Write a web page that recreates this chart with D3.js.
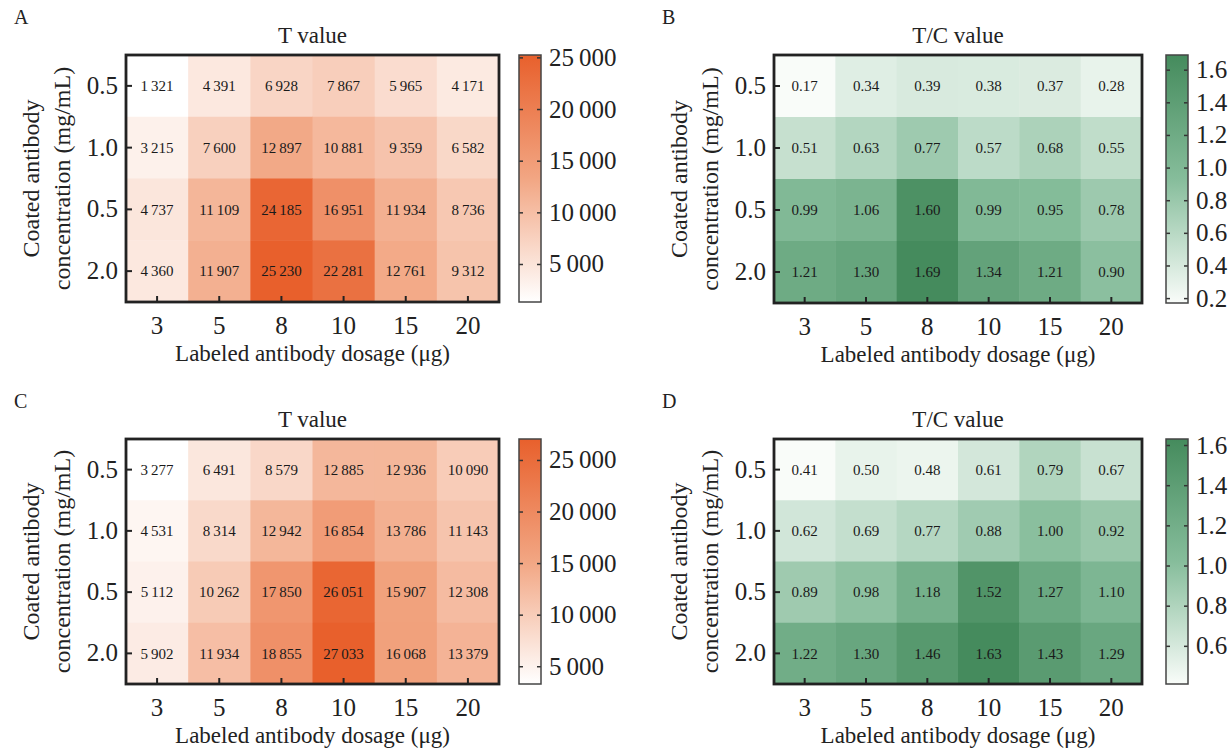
<!DOCTYPE html>
<html>
<head>
<meta charset="utf-8">
<script src="https://cdn.jsdelivr.net/npm/d3@7.9.0/dist/d3.min.js"></script>
<style>
  body { margin: 0; background: #fff; }
  svg { display: block; font-family: "Liberation Serif", "Times New Roman", serif; }
</style>
</head>
<body>
<svg id="chart" width="1228" height="751"></svg>
<script>
// x categories (labeled antibody dosage, ug) and y categories (coated antibody, mg/mL)
const doses = ['3', '5', '8', '10', '15', '20'];
const coatLabels = ['0.5', '1.0', '0.5', '2.0'];

// panel A: T value
const tValuesA = [
  [1321, 4391, 6928, 7867, 5965, 4171],
  [3215, 7600, 12897, 10881, 9359, 6582],
  [4737, 11109, 24185, 16951, 11934, 8736],
  [4360, 11907, 25230, 22281, 12761, 9312]
];
// panel B: T/C value
const tcValuesB = [
  [0.17, 0.34, 0.39, 0.38, 0.37, 0.28],
  [0.51, 0.63, 0.77, 0.57, 0.68, 0.55],
  [0.99, 1.06, 1.60, 0.99, 0.95, 0.78],
  [1.21, 1.30, 1.69, 1.34, 1.21, 0.90]
];
// panel C: T value
const tValuesC = [
  [3277, 6491, 8579, 12885, 12936, 10090],
  [4531, 8314, 12942, 16854, 13786, 11143],
  [5112, 10262, 17850, 26051, 15907, 12308],
  [5902, 11934, 18855, 27033, 16068, 13379]
];
// panel D: T/C value
const tcValuesD = [
  [0.41, 0.50, 0.48, 0.61, 0.79, 0.67],
  [0.62, 0.69, 0.77, 0.88, 1.00, 0.92],
  [0.89, 0.98, 1.18, 1.52, 1.27, 1.10],
  [1.22, 1.30, 1.46, 1.63, 1.43, 1.29]
];

const tTicks = [5000, 10000, 15000, 20000, 25000];
const tcTicksB = [0.2, 0.4, 0.6, 0.8, 1.0, 1.2, 1.4, 1.6];
const tcTicksD = [0.6, 0.8, 1.0, 1.2, 1.4, 1.6];

// colour ramps: low, middle, high
const orange = ['#ffffff', '#f2a683', '#e8602c'];
const green = ['#f9fcf9', '#86bd9b', '#458b5d'];

const loc = d3.formatLocale({ decimal: '.', thousands: '\u2009', grouping: [3], currency: ['', ''] });
const fmtT = loc.format(',d');
const fmtTC = d3.format('.2f');
const fmtTick1 = d3.format('.1f');

const svg = d3.select('#chart');
const defs = svg.append('defs');

function drawPanel(p) {
  const g = svg.append('g').attr('transform', `translate(${p.x},${p.y})`);
  const w = p.w, h = p.h;

  const x = d3.scaleBand().domain(d3.range(doses.length)).range([0, w]);
  const y = d3.scaleBand().domain(d3.range(coatLabels.length)).range([0, h]);

  const ext = d3.extent(p.values.flat());
  const mid = ext[0] + (ext[1] - ext[0]) * 0.5;
  const color = d3.scaleLinear().domain([ext[0], mid, ext[1]]).range(p.colors);

  const cells = [];
  p.values.forEach((row, ri) => row.forEach((v, ci) => cells.push({ ri, ci, v })));

  g.selectAll('rect.cell')
    .data(cells)
    .join('rect')
    .attr('class', 'cell')
    .attr('x', d => x(d.ci))
    .attr('y', d => y(d.ri))
    .attr('width', x.bandwidth() + 0.5)
    .attr('height', y.bandwidth() + 0.5)
    .attr('fill', d => color(d.v));

  g.selectAll('text.val')
    .data(cells)
    .join('text')
    .attr('class', 'val')
    .attr('x', d => x(d.ci) + x.bandwidth() / 2)
    .attr('y', d => y(d.ri) + y.bandwidth() / 2)
    .attr('dy', '0.35em')
    .attr('text-anchor', 'middle')
    .attr('font-size', 15)
    .attr('fill', '#1a1a1a')
    .text(d => p.fmt(d.v));

  // axes, ticks pointing inward
  const xAxis = g.append('g')
    .attr('transform', `translate(0,${h})`)
    .call(d3.axisBottom(x).tickSize(-6).tickPadding(14).tickFormat(i => doses[i]));
  const yAxis = g.append('g')
    .call(d3.axisLeft(y).tickSize(-6).tickPadding(8).tickFormat(i => coatLabels[i]));
  [xAxis, yAxis].forEach(a => {
    a.select('.domain').remove();
    a.selectAll('.tick line').attr('stroke', '#222').attr('stroke-width', 2);
    a.selectAll('.tick text').attr('font-size', 25).attr('fill', '#222')
      .attr('font-family', '"Liberation Serif", serif');
  });

  g.append('rect')
    .attr('width', w).attr('height', h)
    .attr('fill', 'none').attr('stroke', '#222').attr('stroke-width', 2.8);

  // panel letter and title
  svg.append('text')
    .attr('x', p.x - 112).attr('y', p.y - 31)
    .attr('font-size', 20).attr('fill', '#222')
    .text(p.letter);
  g.append('text')
    .attr('x', w / 2).attr('y', -12)
    .attr('text-anchor', 'middle')
    .attr('font-size', 23).attr('fill', '#222')
    .text(p.title);

  g.append('text')
    .attr('x', w / 2).attr('y', h + 59)
    .attr('text-anchor', 'middle')
    .attr('font-size', 23).attr('fill', '#222')
    .text('Labeled antibody dosage (\u03bcg)');

  const yt = g.append('text')
    .attr('transform', `translate(-95,${h / 2}) rotate(-90)`)
    .attr('text-anchor', 'middle')
    .attr('font-size', 24).attr('fill', '#222');
  yt.append('tspan').attr('x', 0).attr('y', 0).attr('dy', '0.35em').text('Coated antibody');
  yt.append('tspan').attr('x', 0).attr('y', 31).attr('dy', '0.35em').text('concentration (mg/mL)');

  // colour bar
  const gid = 'grad' + p.letter;
  const grad = defs.append('linearGradient').attr('id', gid)
    .attr('x1', 0).attr('y1', 1).attr('x2', 0).attr('y2', 0);
  p.colors.forEach((c, i) => {
    grad.append('stop').attr('offset', i / (p.colors.length - 1)).attr('stop-color', c);
  });

  const cb = g.append('g').attr('transform', `translate(${w + p.cbGap},0)`);
  const cbW = 22;
  const cy = d3.scaleLinear().domain(ext).range([h, 0]);
  cb.append('rect').attr('width', cbW).attr('height', h).attr('fill', `url(#${gid})`);

  const rAxis = cb.append('g').attr('transform', `translate(${cbW},0)`)
    .call(d3.axisRight(cy).tickValues(p.ticks).tickSize(-4).tickPadding(8).tickFormat(p.tickFmt));
  const lAxis = cb.append('g')
    .call(d3.axisLeft(cy).tickValues(p.ticks).tickSize(-4).tickFormat(''));
  [rAxis, lAxis].forEach(a => {
    a.select('.domain').remove();
    a.selectAll('.tick line').attr('stroke', '#333').attr('stroke-width', 1.5);
    a.selectAll('.tick text').attr('font-size', 25).attr('fill', '#222')
      .attr('font-family', '"Liberation Serif", serif');
  });
  cb.append('rect').attr('width', cbW).attr('height', h)
    .attr('fill', 'none').attr('stroke', '#444').attr('stroke-width', 1.5);
}

drawPanel({ letter: 'A', title: 'T value', x: 126, y: 55, w: 373, h: 247, cbGap: 20,
  values: tValuesA, colors: orange, fmt: fmtT, ticks: tTicks, tickFmt: fmtT });
drawPanel({ letter: 'B', title: 'T/C value', x: 774, y: 55, w: 368, h: 248, cbGap: 24,
  values: tcValuesB, colors: green, fmt: fmtTC, ticks: tcTicksB, tickFmt: fmtTick1 });
drawPanel({ letter: 'C', title: 'T value', x: 126, y: 439, w: 373, h: 245, cbGap: 20,
  values: tValuesC, colors: orange, fmt: fmtT, ticks: tTicks, tickFmt: fmtT });
drawPanel({ letter: 'D', title: 'T/C value', x: 774, y: 439, w: 368, h: 245, cbGap: 24,
  values: tcValuesD, colors: green, fmt: fmtTC, ticks: tcTicksD, tickFmt: fmtTick1 });
</script>
</body>
</html>
